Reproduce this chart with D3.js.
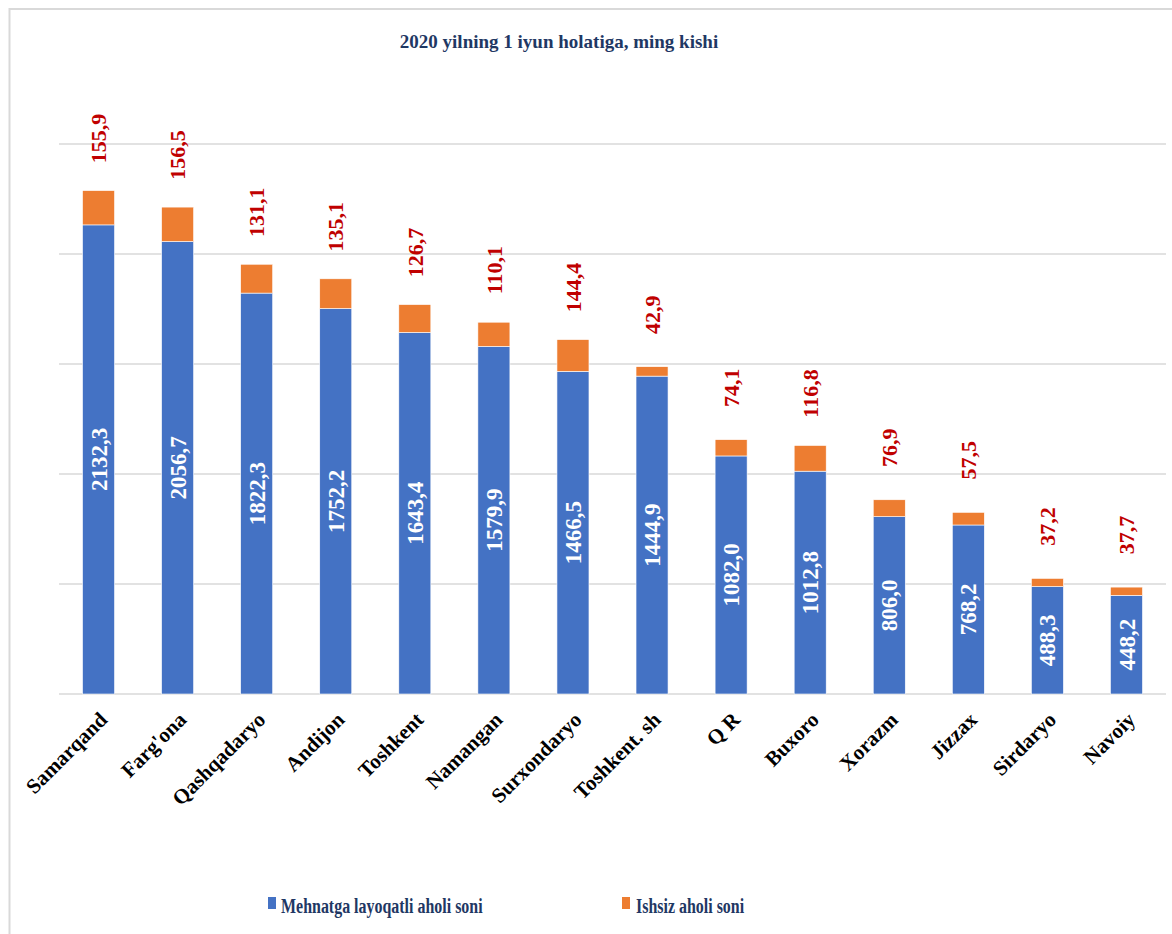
<!DOCTYPE html>
<html>
<head>
<meta charset="utf-8">
<script src="https://cdn.jsdelivr.net/npm/d3@7"></script>
<style>
  html, body { margin: 0; padding: 0; background: #fff; }
  svg { display: block; }
  text { font-family: "Liberation Serif", "Times New Roman", serif; font-weight: bold; }
</style>
</head>
<body>
<svg id="chart" width="1172" height="934"></svg>
<script>
const categories = ["Samarqand", "Farg'ona", "Qashqadaryo", "Andijon", "Toshkent", "Namangan", "Surxondaryo", "Toshkent. sh", "Q R", "Buxoro", "Xorazm", "Jizzax", "Sirdaryo", "Navoiy"];
const workingAge = [2132.3, 2056.7, 1822.3, 1752.2, 1643.4, 1579.9, 1466.5, 1444.9, 1082.0, 1012.8, 806.0, 768.2, 488.3, 448.2];
const unemployed = [155.9, 156.5, 131.1, 135.1, 126.7, 110.1, 144.4, 42.9, 74.1, 116.8, 76.9, 57.5, 37.2, 37.7];
const seriesNames = ["Mehnatga layoqatli aholi soni", "Ishsiz aholi soni"];
const gridTicks = [0, 500, 1000, 1500, 2000, 2500];
const titleText = "2020 yilning 1 iyun holatiga, ming kishi";

const colors = ["#4472C4", "#ED7D31"];
const fmt = v => v.toFixed(1).replace(".", ",");

const svg = d3.select("#chart");

// chart border (top and left visible)
svg.append("rect").attr("x", 9.5).attr("y", 9).attr("width", 1200).attr("height", 1000)
  .attr("fill", "none").attr("stroke", "#d9d9d9").attr("stroke-width", 2);

const x = d3.scaleBand().domain(categories).range([59, 1166]).paddingInner(0.595).paddingOuter(0.2975);
const y = d3.scaleLinear().domain([0, 2500]).range([694, 144]);

// gridlines
svg.append("g").selectAll("line").data(gridTicks).join("line")
  .attr("x1", 59).attr("x2", 1166)
  .attr("y1", d => y(d)).attr("y2", d => y(d))
  .attr("stroke", "#d9d9d9").attr("stroke-width", 1.5);

// title
svg.append("text").attr("x", 559).attr("y", 48).attr("text-anchor", "middle")
  .attr("font-size", 19).attr("fill", "#1F3864").text(titleText);

const data = categories.map((c, i) => ({ c, a: workingAge[i], b: unemployed[i] }));

// bars
const g = svg.append("g");
g.selectAll("rect.a").data(data).join("rect").attr("class", "a")
  .attr("x", d => x(d.c)).attr("width", x.bandwidth())
  .attr("y", d => y(d.a)).attr("height", d => y(0) - y(d.a))
  .attr("fill", colors[0]).attr("stroke", "#fff").attr("stroke-width", 0.6);
g.selectAll("rect.b").data(data).join("rect").attr("class", "b")
  .attr("x", d => x(d.c)).attr("width", x.bandwidth())
  .attr("y", d => y(d.a + d.b)).attr("height", d => y(d.a) - y(d.a + d.b))
  .attr("fill", colors[1]).attr("stroke", "#fff").attr("stroke-width", 0.6);

// white labels inside blue
g.selectAll("text.a").data(data).join("text").attr("class", "a")
  .attr("transform", d => `translate(${x(d.c) + x.bandwidth() / 2},${(y(d.a) + y(0)) / 2}) rotate(-90)`)
  .attr("text-anchor", "middle").attr("dy", "0.35em")
  .attr("font-size", 23).attr("fill", "#fff").text(d => fmt(d.a));

// red labels above
g.selectAll("text.b").data(data).join("text").attr("class", "b")
  .attr("transform", d => `translate(${x(d.c) + x.bandwidth() / 2},${y(d.a + d.b) - 52}) rotate(-90)`)
  .attr("text-anchor", "middle").attr("dy", "0.35em")
  .attr("font-size", 22).attr("fill", "#C00000").text(d => fmt(d.b));

// category labels
svg.append("g").selectAll("text").data(categories).join("text")
  .attr("transform", d => `translate(${x(d) + x.bandwidth() / 2 + 10},${721}) rotate(-45)`)
  .attr("text-anchor", "end")
  .attr("font-size", 21).attr("fill", "#000").text(d => d);

// legend
const legendPos = [{ sx: 268, tx: 281 }, { sx: 622, tx: 636 }];
const lg = svg.append("g");
seriesNames.forEach((n, i) => {
  lg.append("rect").attr("x", legendPos[i].sx).attr("y", 897).attr("width", 8).attr("height", 12).attr("fill", colors[i]);
  lg.append("text").attr("transform", `translate(${legendPos[i].tx},913) scale(0.76,1)`)
    .attr("font-size", 21).attr("fill", "#1F3864").text(n);
});
</script>
</body>
</html>
